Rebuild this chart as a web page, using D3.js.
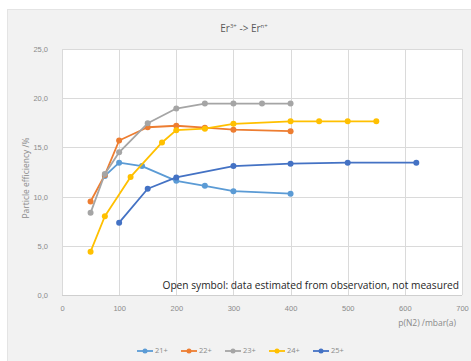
<!DOCTYPE html>
<html>
<head>
<meta charset="utf-8">
<script src="https://cdn.jsdelivr.net/npm/d3@7"></script>
<style>
  html, body { margin: 0; padding: 0; background: #fff; }
  svg { display: block; font-family: "Open Sans", "Liberation Sans", sans-serif; }
</style>
</head>
<body>
<svg id="chart" width="471" height="361"></svg>
<script>
// Charge-state series: x = p(N2) in mbar(a), y = particle efficiency in %
const seriesNames = ["21+", "22+", "23+", "24+", "25+"];
const seriesColors = ["#5B9BD5", "#ED7D31", "#A5A5A5", "#FFC000", "#4472C4"];

const x21 = [75, 100, 140, 200, 250, 300, 400];
const y21 = [12.1, 13.45, 13.1, 11.6, 11.1, 10.55, 10.3];

const x22 = [50, 75, 100, 150, 200, 250, 300, 400];
const y22 = [9.5, 12.2, 15.7, 17.05, 17.2, 17.0, 16.8, 16.65];

const x23 = [50, 75, 100, 150, 200, 250, 300, 350, 400];
const y23 = [8.35, 12.3, 14.5, 17.45, 18.95, 19.45, 19.45, 19.45, 19.45];

const x24 = [50, 75, 120, 175, 200, 250, 300, 400, 450, 500, 550];
const y24 = [4.4, 8.0, 12.0, 15.5, 16.75, 16.9, 17.4, 17.65, 17.65, 17.65, 17.65];

const x25 = [100, 150, 200, 300, 400, 500, 620];
const y25 = [7.35, 10.8, 11.95, 13.1, 13.35, 13.45, 13.45];

const xTicks = [0, 100, 200, 300, 400, 500, 600, 700];
const yTicks = [0, 5, 10, 15, 20, 25];

const xs = [x21, x22, x23, x24, x25];
const ys = [y21, y22, y23, y24, y25];
const series = seriesNames.map((name, i) => ({
  name, color: seriesColors[i],
  points: xs[i].map((x, j) => ({ x, y: ys[i][j] }))
}));

const svg = d3.select("#chart");
const W = 471, H = 361;

// Chart area frame
svg.append("rect").attr("x", 7.5).attr("y", 9.5).attr("width", W - 7).attr("height", H - 9)
  .attr("fill", "#f2f2f2").attr("stroke", "#e4e4e4");

const plot = { left: 62, right: 462, top: 49, bottom: 295 };

svg.append("rect").attr("x", plot.left).attr("y", plot.top)
  .attr("width", plot.right - plot.left).attr("height", plot.bottom - plot.top)
  .attr("fill", "#ffffff");

const xScale = d3.scaleLinear().domain([0, 700]).range([plot.left, plot.right]);
const yScale = d3.scaleLinear().domain([0, 25]).range([plot.bottom, plot.top]);

const fmt = d => d3.format(".1f")(d).replace(".", ",");

// Gridlines
svg.append("g").selectAll("line.gx").data(xTicks).join("line")
  .attr("x1", d => Math.round(xScale(d)) + 0.5).attr("x2", d => Math.round(xScale(d)) + 0.5)
  .attr("y1", plot.top).attr("y2", plot.bottom)
  .attr("stroke", "#dadada").attr("stroke-width", 1);
svg.append("g").selectAll("line.gy").data(yTicks).join("line")
  .attr("x1", plot.left).attr("x2", plot.right)
  .attr("y1", d => Math.round(yScale(d)) + 0.5).attr("y2", d => Math.round(yScale(d)) + 0.5)
  .attr("stroke", d => d === 0 ? "#cfcfcf" : "#dadada").attr("stroke-width", 1);

// Axes (labels only; lines come from the grid)
const xAxis = d3.axisBottom(xScale).tickValues(xTicks).tickSize(0).tickPadding(0);
const gx = svg.append("g").attr("transform", `translate(0,${plot.bottom + 14})`).call(xAxis);
gx.select(".domain").remove();
gx.selectAll("text").attr("fill", "#8a8a8a").attr("font-size", 7.5).attr("dy", "0.32em");

const yAxis = d3.axisLeft(yScale).tickValues(yTicks).tickFormat(fmt).tickSize(0).tickPadding(0);
const gy = svg.append("g").attr("transform", `translate(${plot.left - 14},0)`).call(yAxis);
gy.select(".domain").remove();
gy.selectAll("text").attr("fill", "#8a8a8a").attr("font-size", 7.5);

// Title
const title = svg.append("text").attr("x", 244).attr("y", 32).attr("text-anchor", "middle")
  .attr("fill", "#595959").attr("font-size", 10);
title.append("tspan").text("Er");
title.append("tspan").text("3+").attr("font-size", 6).attr("dy", -4);
title.append("tspan").text(" -> Er").attr("dy", 4);
title.append("tspan").text("n+").attr("font-size", 6).attr("dy", -4);

// Axis titles
svg.append("text").attr("transform", `translate(29,178) rotate(-90)`)
  .attr("text-anchor", "middle").attr("fill", "#8a8a8a").attr("font-size", 8.5)
  .text("Particle efficiency /%");
svg.append("text").attr("x", 456).attr("y", 326).attr("text-anchor", "end")
  .attr("fill", "#8a8a8a").attr("font-size", 8.5).text("p(N2) /mbar(a)");

// Note
svg.append("text").attr("x", 459).attr("y", 289).attr("text-anchor", "end")
  .attr("fill", "#262626").attr("font-size", 10.2)
  .text("Open symbol: data estimated from observation, not measured");

// Series
const line = d3.line().x(d => xScale(d.x)).y(d => yScale(d.y));
const gs = svg.append("g").selectAll("g").data(series).join("g");
gs.append("path").attr("d", d => line(d.points)).attr("fill", "none")
  .attr("stroke", d => d.color).attr("stroke-width", 1.8).attr("stroke-linejoin", "round");
gs.selectAll("circle").data(d => d.points.map(p => ({ ...p, color: d.color }))).join("circle")
  .attr("cx", d => xScale(d.x)).attr("cy", d => yScale(d.y)).attr("r", 3)
  .attr("fill", d => d.color);

// Legend
const leg = svg.append("g").selectAll("g").data(series).join("g")
  .attr("transform", (d, i) => `translate(${137 + i * 44},351)`);
leg.append("line").attr("x1", 0).attr("x2", 16).attr("y1", 0).attr("y2", 0)
  .attr("stroke", d => d.color).attr("stroke-width", 1.8);
leg.append("circle").attr("cx", 8).attr("cy", 0).attr("r", 2.5).attr("fill", d => d.color);
leg.append("text").attr("x", 18).attr("y", 0).attr("dy", "0.32em")
  .attr("fill", "#8a8a8a").attr("font-size", 7.5).text(d => d.name);
</script>
</body>
</html>
